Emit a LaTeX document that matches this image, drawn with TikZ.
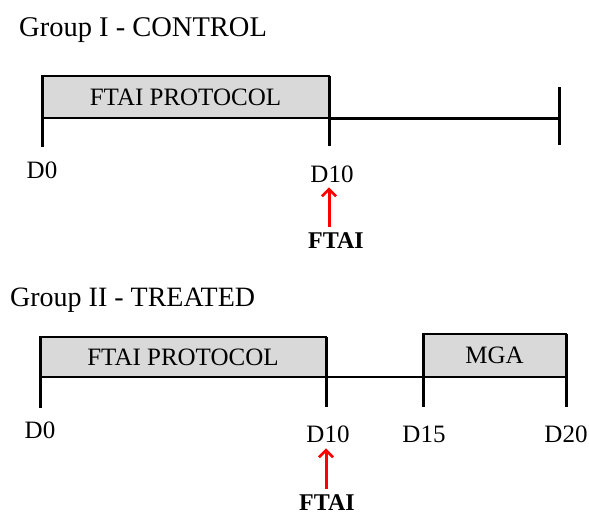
\documentclass[tikz,border=0pt]{standalone}
\usepackage{fontspec}
\setmainfont{Liberation Serif}
\usetikzlibrary{arrows.meta}
\definecolor{boxgray}{RGB}{217,217,217}
\tikzset{
  phase/.style={draw=black, fill=boxgray, line width=2.4pt, anchor=north west, inner sep=0pt, outer sep=0pt, font=\fontsize{25}{30}\selectfont},
  tick/.style={line width=3pt, line cap=butt},
  daylbl/.style={anchor=base, inner sep=0pt, font=\fontsize{25}{30}\selectfont},
  grouptitle/.style={anchor=base west, inner sep=0pt, font=\fontsize{28.5}{34}\selectfont},
  ftailbl/.style={anchor=base, inner sep=0pt, font=\fontsize{24}{29}\selectfont\bfseries},
  redarrow/.style={draw=red, line width=3pt, -{Straight Barb[length=7pt,width=14pt,line width=2.6pt]}}
}
\begin{document}
\begin{tikzpicture}[x=1pt,y=-1pt]
\useasboundingbox (0,0) rectangle (589,515);
% Group I
\node[grouptitle] (t1) at (19,36) {Group I - CONTROL};
\node[phase, minimum width=287pt, minimum height=42pt] (p1) at (42,76) {FTAI PROTOCOL};
\coordinate (a1) at (42,147);
\coordinate (b1) at (329,146);
\coordinate (e1) at (559,118);
\coordinate (e1top) at (559,87);
\coordinate (e1bot) at (559,145);
\draw[tick] (p1.south east) -- (e1);
\draw[tick] (p1.north west) -- (a1);
\draw[tick] (p1.north east) -- (b1);
\draw[tick] (e1top) -- (e1bot);
\node[daylbl] (d0a) at (42,178) {D0};
\node[daylbl] (d10a) at (332,182) {D10};
\node[ftailbl] (f1) at (336,248) {FTAI};
\draw[redarrow, shorten <=5pt, shorten >=5pt] (f1.north -| b1) -- (d10a.south -| b1);
% Group II
\node[grouptitle, font=\fontsize{28}{34}\selectfont] (t2) at (10,306) {Group II - TREATED};
\node[phase, minimum width=286pt, minimum height=40pt] (p2) at (40,337) {FTAI PROTOCOL};
\node[phase, minimum width=143pt, minimum height=43pt] (mga) at (423,334) {MGA};
\coordinate (a2) at (40,408);
\coordinate (b2) at (326,407);
\coordinate (c2) at (423,407);
\coordinate (d2) at (566,407);
\draw[tick, line width=2.4pt] (p2.south east) -- (mga.south west);
\draw[tick] (p2.north west) -- (a2);
\draw[tick] (p2.north east) -- (b2);
\draw[tick] (mga.north west) -- (c2);
\draw[tick] (mga.north east) -- (d2);
\node[daylbl] (d0b) at (40,438) {D0};
\node[daylbl] (d10b) at (328,442) {D10};
\node[daylbl] (d15b) at (424,442) {D15};
\node[daylbl] (d20b) at (566,442) {D20};
\node[ftailbl] (f2) at (327,510) {FTAI};
\draw[redarrow, shorten <=5pt, shorten >=6pt] (f2.north -| b2) -- (d10b.south -| b2);
\end{tikzpicture}
\end{document}
